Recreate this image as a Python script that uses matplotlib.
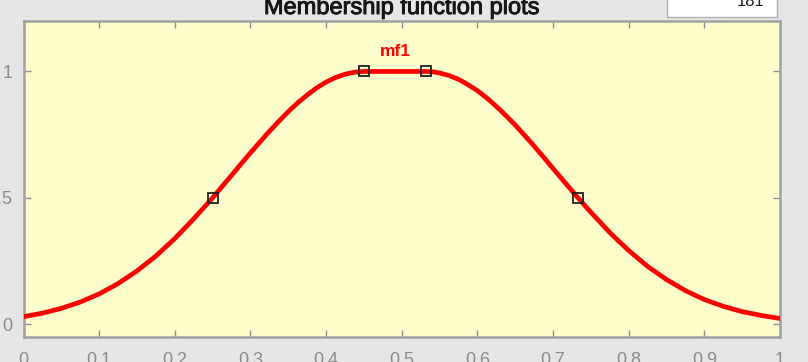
import matplotlib.pyplot as plt
import matplotlib.patheffects as pe

# membership function mf1
x_vals = [0.0, 0.025, 0.05, 0.075, 0.1, 0.125, 0.15, 0.175, 0.2, 0.225,
          0.25, 0.2625, 0.275, 0.2875, 0.3, 0.3125, 0.325, 0.3375, 0.35, 0.3625,
          0.375, 0.3875, 0.4, 0.4125, 0.425, 0.4375, 0.45, 0.5, 0.532, 0.5425,
          0.55, 0.5625, 0.575, 0.5875, 0.6, 0.6125, 0.625, 0.6375, 0.65, 0.6625,
          0.675, 0.6875, 0.7, 0.7165, 0.733, 0.75, 0.7625, 0.775, 0.7875, 0.8,
          0.825, 0.85, 0.875, 0.9, 0.925, 0.95, 0.975, 1.0]
mu_vals = [0.030, 0.044, 0.063, 0.088, 0.120, 0.161, 0.211, 0.270, 0.339, 0.417,
           0.500, 0.545, 0.589, 0.634, 0.678, 0.721, 0.763, 0.803, 0.841, 0.876,
           0.907, 0.935, 0.958, 0.976, 0.989, 0.997, 1.0, 1.0, 1.0, 0.998,
           0.994, 0.984, 0.969, 0.948, 0.924, 0.895, 0.862, 0.826, 0.788, 0.747,
           0.705, 0.661, 0.616, 0.558, 0.500, 0.443, 0.403, 0.363, 0.327, 0.292,
           0.229, 0.177, 0.133, 0.098, 0.071, 0.050, 0.035, 0.023]

# parameter points shown as square markers
marker_x = [0.25, 0.45, 0.532, 0.733]
marker_mu = [0.5, 1.0, 1.0, 0.5]

mf_name = 'mf1'
x_ticks = [0, 0.1, 0.2, 0.3, 0.4, 0.5, 0.6, 0.7, 0.8, 0.9, 1]
x_tick_labels = ['0', '0.1', '0.2', '0.3', '0.4', '0.5', '0.6', '0.7', '0.8', '0.9', '1']
y_ticks = [0, 0.5, 1]
y_tick_labels = ['0', '0.5', '1']
plot_points = '181'

plt.rcParams['font.family'] = ['Liberation Sans', 'DejaVu Sans']

fig = plt.figure(figsize=(8.08, 3.62), dpi=100)
fig.patch.set_facecolor('#e6e6e6')

ax = fig.add_axes([0.0291, 0.0693, 0.9362, 0.873])
ax.set_facecolor('#fefdcc')

ax.plot(x_vals, mu_vals, color='#ff0000', linewidth=3.4, solid_joinstyle='round', zorder=3)
ax.plot(marker_x, marker_mu, linestyle='none', marker='s', markersize=7.5,
        markerfacecolor='none', markeredgecolor='#222222', markeredgewidth=1.3, zorder=4)
ax.text(0.491, 1.08, mf_name, color='#ff0000', fontsize=12.5, fontweight='bold',
        ha='center', va='center')

ax.set_xlim(0, 1)
ax.set_ylim(-0.05, 1.2)
ax.set_xticks(x_ticks)
ax.set_xticklabels(x_tick_labels)
ax.set_yticks(y_ticks)
ax.set_yticklabels(y_tick_labels)
ax.tick_params(axis='both', direction='in', length=5, width=1, color='#909090',
               labelcolor='#8c8c8c', labelsize=13, top=True, right=True)
ax.tick_params(axis='x', pad=11)
ax.tick_params(axis='y', pad=8)
for spine in ax.spines.values():
    spine.set_color('#a0a0a0')
    spine.set_linewidth(1.8)

# title above the axes, drawn a little heavier
fig.text(402 / 808, 1 - 14 / 362, 'Membership function plots', fontsize=17,
         color='#161616', ha='center', va='baseline',
         path_effects=[pe.withStroke(linewidth=0.7, foreground='#161616')])

# "plot points" entry box
box = plt.Rectangle((667 / 808, 1 - 17 / 362), 110 / 808, 20 / 362,
                    transform=fig.transFigure, facecolor='white',
                    edgecolor='#b0b0b0', linewidth=1, zorder=5)
fig.patches.append(box)
fig.text(765 / 808, 1 - 2 / 362, plot_points, fontsize=12, color='#222222',
         ha='right', va='center', zorder=6)

fig.savefig('out.png', dpi=100, facecolor=fig.get_facecolor())
